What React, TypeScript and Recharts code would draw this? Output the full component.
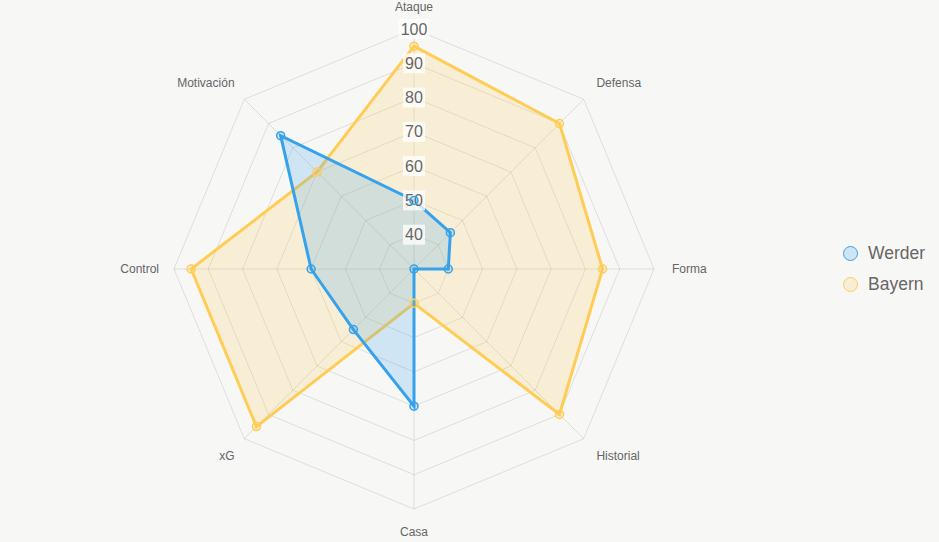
import { RadarChart, Radar, PolarGrid, PolarAngleAxis, PolarRadiusAxis } from 'recharts';

const subjects = ['Ataque', 'Defensa', 'Forma', 'Historial', 'Casa', 'xG', 'Control', 'Motivación'];
const werder = [50, 45, 40, 30, 70, 55, 60, 85];
const bayern = [95, 90, 85, 90, 40, 95, 95, 70];
const radiusTicks = [30, 40, 50, 60, 70, 80, 90, 100];

const chartData = subjects.map((subject, i) => ({
  subject,
  werder: werder[i],
  bayern: bayern[i],
}));

const CX = 414;
const CY = 269;
const R = 240;
const FONT = '"Liberation Sans", Arial, Helvetica, sans-serif';

// point labels sit just outside the outer ring, anchored away from the centre
const AngleTick = (props: any) => {
  const { x, y, payload } = props;
  const dx = x - CX;
  const dy = y - CY;
  const len = Math.sqrt(dx * dx + dy * dy) || 1;
  const ux = dx / len;
  const uy = dy / len;
  let px = CX + ux * (R + 18);
  const py = CY + uy * (R + 18);
  const anchor = Math.abs(ux) < 0.01 ? 'middle' : ux > 0 ? 'start' : 'end';
  if (anchor === 'end') px += 3;
  let baseline = 'central';
  if (uy < -0.01) baseline = 'auto';
  if (uy > 0.01) baseline = 'hanging';
  return (
    <text
      x={px}
      y={py}
      textAnchor={anchor}
      dominantBaseline={baseline}
      fill="#666"
      fontSize={12}
      fontFamily={FONT}
    >
      {payload.value}
    </text>
  );
};

const RadiusTick = (props: any) => {
  const { x, y, payload } = props;
  if (payload.value === 30) return null;
  const label = String(payload.value);
  const w = label.length * 9 + 4;
  return (
    <g>
      <rect x={x - w / 2} y={y - 10} width={w} height={20} fill="rgba(255,255,255,0.75)" />
      <text
        x={x}
        y={y}
        textAnchor="middle"
        dominantBaseline="central"
        fill="#666"
        fontSize={16}
        fontFamily={FONT}
      >
        {label}
      </text>
    </g>
  );
};

export default function App() {
  return (
    <div
      style={{
        position: 'fixed',
        left: 0,
        top: 0,
        width: 939,
        height: 542,
        background: '#f7f7f5',
        fontFamily: FONT,
      }}
    >
      <RadarChart
        width={939}
        height={542}
        data={chartData}
        cx={CX}
        cy={CY}
        outerRadius={R}
        margin={{ top: 0, right: 0, bottom: 0, left: 0 }}
      >
        <PolarGrid gridType="polygon" stroke="rgba(0,0,0,0.1)" />
        <PolarAngleAxis dataKey="subject" tick={<AngleTick />} axisLine={false} tickLine={false} />
        <Radar
          name="Bayern"
          dataKey="bayern"
          stroke="#ffcd56"
          strokeWidth={3}
          fill="rgba(255,205,86,0.2)"
          fillOpacity={1}
          dot={{ r: 4, stroke: '#ffcd56', strokeWidth: 1.5, fill: 'rgba(255,205,86,0.2)' }}
          isAnimationActive={false}
        />
        <Radar
          name="Werder"
          dataKey="werder"
          stroke="#36a2eb"
          strokeWidth={3}
          fill="rgba(54,162,235,0.2)"
          fillOpacity={1}
          dot={{ r: 4, stroke: '#36a2eb', strokeWidth: 1.5, fill: 'rgba(54,162,235,0.2)' }}
          isAnimationActive={false}
        />
        <PolarRadiusAxis
          angle={90}
          domain={[30, 100]}
          ticks={radiusTicks as any}
          tickCount={8}
          axisLine={false}
          tick={<RadiusTick />}
        />
      </RadarChart>
      <div style={{ position: 'absolute', left: 843, top: 238, fontSize: 17.5, color: '#666' }}>
        {[
          { name: 'Werder', stroke: '#36a2eb', fill: 'rgba(54,162,235,0.2)' },
          { name: 'Bayern', stroke: '#ffcd56', fill: 'rgba(255,205,86,0.2)' },
        ].map((item) => (
          <div key={item.name} style={{ display: 'flex', alignItems: 'center', height: 31 }}>
            <span
              style={{
                width: 13,
                height: 13,
                borderRadius: '50%',
                border: `1.5px solid ${item.stroke}`,
                background: item.fill,
                marginRight: 10,
                display: 'inline-block',
              }}
            />
            <span>{item.name}</span>
          </div>
        ))}
      </div>
    </div>
  );
}
